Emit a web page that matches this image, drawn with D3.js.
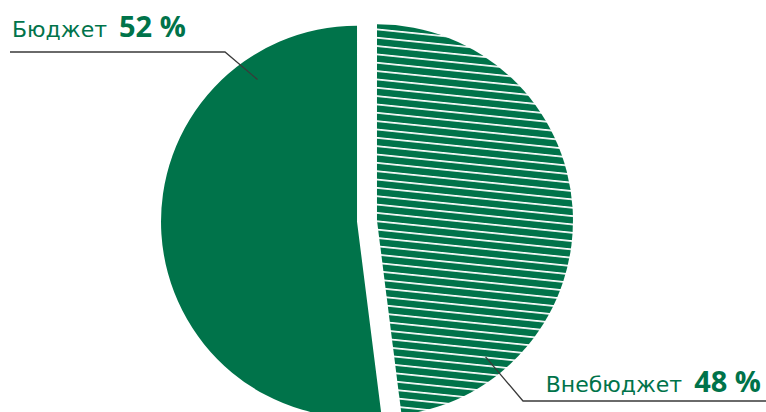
<!DOCTYPE html>
<html>
<head>
<meta charset="utf-8">
<script src="https://cdn.jsdelivr.net/npm/d3@7"></script>
<style>
  html, body { margin: 0; padding: 0; background: #fff; }
  svg { display: block; font-family: "DejaVu Sans", sans-serif; }
</style>
</head>
<body>
<div id="chart"></div>
<script>
// data
const categories = ['Бюджет', 'Внебюджет'];
const shares = [52, 48];
const percentLabels = ['52 %', '48 %'];

document.addEventListener('DOMContentLoaded', () => {
    const width = 766,
          height = 412;

    const green = '#00734a';

    const cx = 367,
          cy = 221,
          radius = 196,
          explode = 10;

    const svg = d3.select('#chart')
                  .append('svg')
                  .attr('width', width)
                  .attr('height', height);

    // hatch pattern for the second slice
    const defs = svg.append('defs');
    const hatch = defs.append('pattern')
                      .attr('id', 'hatch')
                      .attr('patternUnits', 'userSpaceOnUse')
                      .attr('width', 40)
                      .attr('height', 8.3)
                      .attr('patternTransform', 'rotate(5.8)');
    hatch.append('rect')
         .attr('width', 40)
         .attr('height', 8.3)
         .attr('fill', green);
    hatch.append('rect')
         .attr('y', 0)
         .attr('width', 40)
         .attr('height', 1.7)
         .attr('fill', '#fff');

    const total = d3.sum(shares);

    // first slice ends at 12 o'clock, second one starts there
    const pie = d3.pie()
                  .sort(null)
                  .value(d => d)
                  .startAngle(-2 * Math.PI * shares[0] / total)
                  .endAngle(2 * Math.PI - 2 * Math.PI * shares[0] / total);

    const arcs = pie(shares);

    const arc = d3.arc()
                  .innerRadius(0)
                  .outerRadius(radius);

    const offset = d => {
        const mid = (d.startAngle + d.endAngle) / 2;
        return [Math.sin(mid) * explode, -Math.cos(mid) * explode];
    };

    const g = svg.append('g')
                 .attr('transform', 'translate(' + cx + ',' + cy + ')');

    g.selectAll('path')
     .data(arcs)
     .enter()
     .append('path')
     .attr('d', arc)
     .attr('transform', d => 'translate(' + offset(d) + ')')
     .attr('fill', (d, i) => i === 0 ? green : 'url(#hatch)');

    // leader lines + labels
    const labels = [
        { anchorAngle: -35, anchorRadius: 0.885, elbowX: 225, elbowY: 52, endX: 10, textX: 12, textY: 37, side: 'left' },
        { anchorAngle: 141.5, anchorRadius: 0.89, elbowX: 523, elbowY: 401, endX: 766, textX: 761, textY: 392, side: 'right' }
    ];

    labels.forEach((l, i) => {
        const a = l.anchorAngle * Math.PI / 180;
        const o = offset(arcs[i]);
        const ax = cx + o[0] + Math.sin(a) * radius * l.anchorRadius;
        const ay = cy + o[1] - Math.cos(a) * radius * l.anchorRadius;

        svg.append('polyline')
           .attr('points', [[ax, ay], [l.elbowX, l.elbowY], [l.endX, l.elbowY]].join(' '))
           .attr('fill', 'none')
           .attr('stroke', '#3a3a3a')
           .attr('stroke-width', 1.3);

        const t = svg.append('text')
                     .attr('x', l.textX)
                     .attr('y', l.textY)
                     .attr('fill', green)
                     .attr('text-anchor', l.side === 'left' ? 'start' : 'end');
        t.append('tspan')
         .attr('font-size', 22)
         .text(categories[i]);
        t.append('tspan')
         .attr('font-family', '"Open Sans", sans-serif')
         .attr('font-size', 29)
         .attr('font-weight', 'bold')
         .attr('dx', 12)
         .text(percentLabels[i]);
    });
});
</script>
</body>
</html>
